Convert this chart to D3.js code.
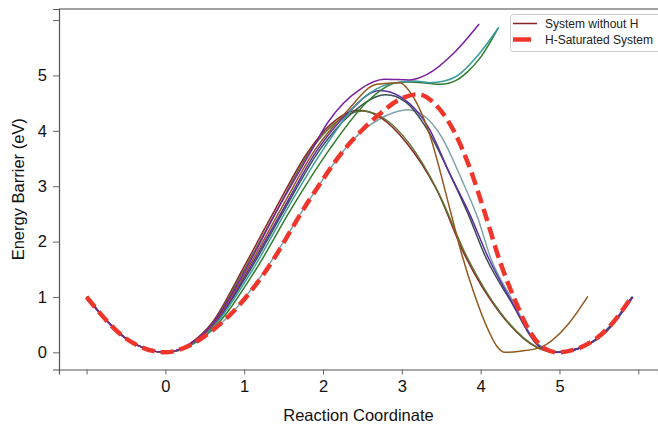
<!DOCTYPE html>
<html>
<head>
<meta charset="utf-8">
<script src="https://cdn.jsdelivr.net/npm/d3@7"></script>
<style>
  body { margin: 0; background: #fff; }
  svg { display: block; font-family: "Liberation Sans", Arial, Helvetica, sans-serif; }
</style>
</head>
<body>
<div class="content"></div>
<script>
const w = 658;
const h = 426;

// tick values
const xTicks = [-1, 0, 1, 2, 3, 4, 5, 6];
const xTickLabels = ['', '0', '1', '2', '3', '4', '5', ''];
const yTicks = [0, 1, 2, 3, 4, 5, 6];
const yTickLabels = ['0', '1', '2', '3', '4', '5', ''];

// curves (reaction coordinate, energy in eV)
const maroonX = [-1, -0.5, 0, 0.3, 0.6, 0.98, 1.4, 1.8, 2.1, 2.45, 2.75, 3.05, 3.44, 3.8, 4.24, 4.71, 4.84, 4.95, 5.3, 5.6, 5.92];
const maroonY = [1, 0.25, 0, 0.15, 0.55, 1.5, 2.6, 3.6, 4.12, 4.37, 4.22, 3.8, 2.94, 1.75, 0.72, 0.09, 0.02, 0, 0.1, 0.38, 1.0];

const oliveX = [-1, -0.5, 0, 0.3, 0.6, 1.0, 1.42, 1.82, 2.15, 2.5, 2.8, 3.1, 3.46, 3.82, 4.25, 4.72, 4.85, 4.95, 5.3, 5.6, 5.93];
const oliveY = [1, 0.25, 0, 0.14, 0.53, 1.5, 2.58, 3.6, 4.14, 4.36, 4.2, 3.76, 2.9, 1.74, 0.72, 0.09, 0.02, 0, 0.1, 0.38, 1.0];

const purpleX = [-1, -0.5, 0, 0.3, 0.6, 1.02, 1.45, 1.86, 2.06, 2.47, 2.78, 3.1, 3.32, 3.67, 3.98];
const purpleY = [1, 0.25, 0, 0.14, 0.52, 1.5, 2.65, 3.66, 4.15, 4.75, 4.93, 4.92, 5.02, 5.42, 5.93];

const brownX = [-1, -0.5, 0, 0.3, 0.6, 1.04, 1.47, 1.9, 2.3, 2.68, 2.97, 3.15, 3.33, 3.62, 3.75, 3.92, 4.11, 4.2, 4.31, 4.5, 4.76, 5.1, 5.36];
const brownY = [1, 0.25, 0, 0.13, 0.5, 1.5, 2.6, 3.66, 4.35, 4.84, 4.87, 4.6, 4.03, 2.53, 1.82, 1.05, 0.36, 0.12, 0, 0.02, 0.09, 0.49, 1.01];

const indigoX = [-1, -0.5, 0, 0.3, 0.6, 1.06, 1.5, 1.93, 2.3, 2.72, 3.0, 3.35, 3.6, 3.86, 4.09, 4.4, 4.72, 4.86, 4.97, 5.3, 5.6, 5.93];
const indigoY = [1, 0.25, 0, 0.13, 0.48, 1.5, 2.6, 3.66, 4.3, 4.73, 4.6, 4.03, 3.25, 2.5, 1.73, 0.9, 0.14, 0.03, 0, 0.1, 0.4, 1.0];

const slateX = [-1, -0.5, 0, 0.3, 0.6, 1.08, 1.52, 1.96, 2.35, 2.8, 3.05, 3.32, 3.6, 3.84, 4.06, 4.4, 4.72, 4.86, 4.97, 5.3, 5.6, 5.93];
const slateY = [1, 0.25, 0, 0.12, 0.47, 1.5, 2.6, 3.66, 4.3, 4.65, 4.52, 4.03, 3.25, 2.5, 1.73, 0.88, 0.13, 0.03, 0, 0.1, 0.4, 1.0];

const tealX = [-1, -0.5, 0, 0.3, 0.6, 1.11, 1.55, 2.0, 2.5, 2.85, 3.16, 3.35, 3.54, 3.7, 3.97, 4.23];
const tealY = [1, 0.25, 0, 0.12, 0.45, 1.5, 2.6, 3.66, 4.58, 4.85, 4.9, 4.87, 4.9, 4.99, 5.37, 5.87];

const greenX = [-1, -0.5, 0, 0.3, 0.6, 1.15, 1.6, 2.08, 2.55, 2.75, 2.93, 3.1, 3.32, 3.49, 3.7, 3.83, 4.0, 4.22];
const greenY = [1, 0.25, 0, 0.11, 0.42, 1.5, 2.6, 3.66, 4.51, 4.75, 4.87, 4.88, 4.86, 4.84, 4.92, 5.06, 5.33, 5.85];

const grayX = [-1, -0.5, 0, 0.3, 0.6, 0.85, 1.25, 1.83, 2.27, 2.5, 2.7, 2.9, 3.07, 3.3, 3.5, 3.75, 3.97, 4.12, 4.4, 4.72, 4.86, 4.97, 5.3, 5.6, 5.92];
const grayY = [1, 0.25, 0, 0.12, 0.4, 0.72, 1.45, 2.76, 3.66, 4.0, 4.2, 4.33, 4.38, 4.25, 3.9, 3.15, 2.4, 1.73, 0.95, 0.16, 0.04, 0, 0.1, 0.42, 1.0];

const hSatX = [-1, -0.5, 0, 0.3, 0.6, 0.85, 1.25, 1.83, 2.27, 2.5, 2.7, 2.95, 3.2, 3.45, 3.67, 3.87, 4.05, 4.25, 4.43, 4.63, 4.81, 4.97, 5.27, 5.65, 5.9];
const hSatY = [1, 0.25, 0, 0.12, 0.4, 0.72, 1.42, 2.76, 3.66, 4.02, 4.28, 4.55, 4.66, 4.44, 3.97, 3.3, 2.53, 1.62, 0.96, 0.36, 0.07, 0, 0.09, 0.49, 0.97];

const thinCurves = [
	{ x: grayX, y: grayY, color: '#7fa3ab' },
	{ x: maroonX, y: maroonY, color: '#8b2525' },
	{ x: oliveX, y: oliveY, color: '#5f7534' },
	{ x: slateX, y: slateY, color: '#37504f' },
	{ x: indigoX, y: indigoY, color: '#5a2ca8' },
	{ x: greenX, y: greenY, color: '#2f7d2c' },
	{ x: tealX, y: tealY, color: '#3a9c9c' },
	{ x: brownX, y: brownY, color: '#94571c' },
	{ x: purpleX, y: purpleY, color: '#7a1fa0' }
];

const legendLabels = ['System without H', 'H-Saturated System'];

const margin = { top: 9, right: 0, bottom: 56, left: 59 };

const svg = d3.select('.content').append('svg')
	.attr('width', w)
	.attr('height', h);

const x = d3.scaleLinear()
	.domain([-1.35, 6.25])
	.range([margin.left, w - margin.right]);

const y = d3.scaleLinear()
	.domain([-0.31, 6.2])
	.range([h - margin.bottom - 0.5, margin.top]);

// axes
const xAxis = svg.append('g')
	.attr('transform', `translate(0,${y(-0.31)})`)
	.call(d3.axisBottom(x).tickValues(xTicks).tickSize(5).tickPadding(6)
		.tickFormat((d, i) => xTickLabels[i]));

const yAxis = svg.append('g')
	.attr('transform', `translate(${x(-1.35)},0)`)
	.call(d3.axisLeft(y).tickValues(yTicks).tickSize(6).tickPadding(6)
		.tickFormat((d, i) => yTickLabels[i]));

[xAxis, yAxis].forEach(g => {
	g.select('.domain').attr('stroke', '#555').attr('stroke-width', 1.2);
	g.selectAll('.tick line').attr('stroke', '#666');
	g.selectAll('.tick text')
		.attr('fill', '#111')
		.style('font-size', '16.5px')
		.style('font-family', '"Liberation Sans", Arial, sans-serif');
});

// top spine
svg.append('line')
	.attr('x1', x(-1.35)).attr('x2', w)
	.attr('y1', y(6.2)).attr('y2', y(6.2))
	.attr('stroke', '#444')
	.attr('stroke-width', 1.2);

const line = d3.line()
	.x(d => x(d[0]))
	.y(d => y(d[1]))
	.curve(d3.curveMonotoneX);

svg.append('g')
	.selectAll('path')
	.data(thinCurves)
	.enter()
	.append('path')
	.attr('d', d => line(d3.zip(d.x, d.y)))
	.attr('fill', 'none')
	.attr('stroke', d => d.color)
	.attr('stroke-width', 1.5);

svg.append('path')
	.attr('d', line(d3.zip(hSatX, hSatY)))
	.attr('fill', 'none')
	.attr('stroke', '#f0362b')
	.attr('stroke-width', 4.5)
	.attr('stroke-dasharray', '13,6');

// axis titles
svg.append('text')
	.attr('x', (x(-1.35) + w) / 2)
	.attr('y', 421)
	.attr('text-anchor', 'middle')
	.style('font-size', '16.5px')
	.attr('fill', '#111')
	.text('Reaction Coordinate');

svg.append('text')
	.attr('transform', `translate(24,${(y(-0.31) + y(6.2)) / 2}) rotate(-90)`)
	.attr('text-anchor', 'middle')
	.style('font-size', '16.5px')
	.attr('fill', '#111')
	.text('Energy Barrier (eV)');

// legend
const legend = svg.append('g');

legend.append('rect')
	.attr('x', 510.5).attr('y', 14.5)
	.attr('width', 160).attr('height', 37)
	.attr('rx', 3)
	.attr('fill', '#fff')
	.attr('stroke', '#ccc');

legend.append('line')
	.attr('x1', 513).attr('x2', 537)
	.attr('y1', 23.5).attr('y2', 23.5)
	.attr('stroke', '#8b2525')
	.attr('stroke-width', 1.5);

legend.append('line')
	.attr('x1', 513).attr('x2', 531)
	.attr('y1', 39.5).attr('y2', 39.5)
	.attr('stroke', '#f0362b')
	.attr('stroke-width', 4.5);

legend.selectAll('text')
	.data(legendLabels)
	.enter()
	.append('text')
	.attr('x', 545)
	.attr('y', (d, i) => 27.5 + i * 16)
	.style('font-size', '12px')
	.attr('fill', '#222')
	.text(d => d);
</script>
</body>
</html>
